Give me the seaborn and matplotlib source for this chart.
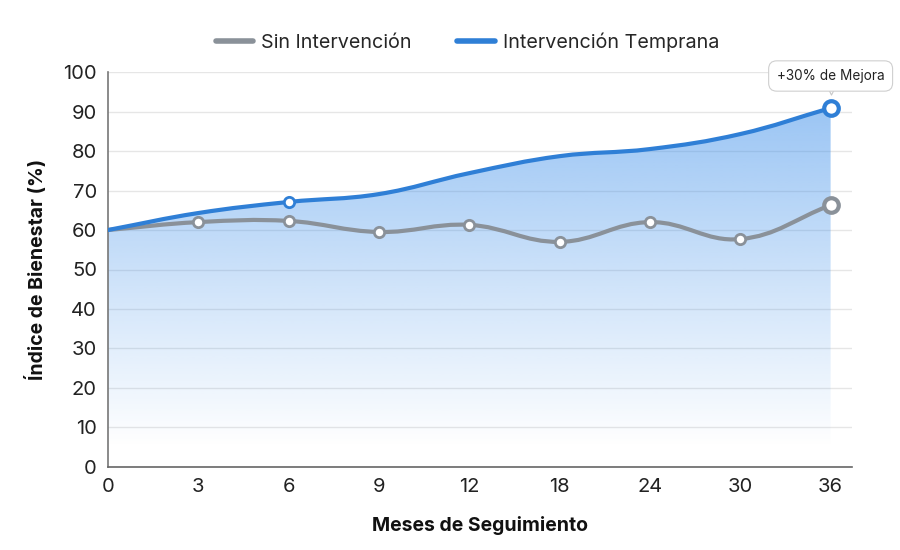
import numpy as np
import pandas as pd
import matplotlib
matplotlib.use("Agg")
import matplotlib.pyplot as plt
import seaborn as sns
from matplotlib.path import Path
from matplotlib.patches import PathPatch
from matplotlib.lines import Line2D

# -------------------------------
# Data
# -------------------------------
meses = ["0", "3", "6", "9", "12", "18", "24", "30", "36"]
sin_intervencion = [60, 62, 62.3, 59.5, 61.3, 57, 62, 57.7, 66.3]
intervencion_temprana = [60, 64.3, 67.1, 69.1, 74.4, 78.7, 80.5, 84.3, 90.9]
y_ticks = [0, 10, 20, 30, 40, 50, 60, 70, 80, 90, 100]

GRAY = "#8a9199"
BLUE = "#2f7fd6"

sns.set_theme(style="white")
plt.rcParams["font.family"] = ["Inter", "DejaVu Sans"]

df = pd.DataFrame({
    "pos": np.arange(len(meses)),
    "mes": meses,
    "sin": sin_intervencion,
    "temprana": intervencion_temprana,
})


def smooth_path(xs, ys, tension=0.4, sx=90.25, sy=3.95):
    # bezier control points (chart.js style), distances measured in pixel-ish units
    xs = np.asarray(xs, float)
    ys = np.asarray(ys, float)
    n = len(xs)
    prev_cp, next_cp = [], []
    for i in range(n):
        p = (xs[max(i - 1, 0)], ys[max(i - 1, 0)])
        c = (xs[i], ys[i])
        q = (xs[min(i + 1, n - 1)], ys[min(i + 1, n - 1)])
        d01 = np.hypot((c[0] - p[0]) * sx, (c[1] - p[1]) * sy)
        d12 = np.hypot((q[0] - c[0]) * sx, (q[1] - c[1]) * sy)
        tot = d01 + d12 if d01 + d12 else 1
        fa = tension * d01 / tot
        fb = tension * d12 / tot
        prev_cp.append((c[0] - fa * (q[0] - p[0]), c[1] - fa * (q[1] - p[1])))
        next_cp.append((c[0] + fb * (q[0] - p[0]), c[1] + fb * (q[1] - p[1])))
    verts = [(xs[0], ys[0])]
    codes = [Path.MOVETO]
    for i in range(n - 1):
        verts += [next_cp[i], prev_cp[i + 1], (xs[i + 1], ys[i + 1])]
        codes += [Path.CURVE4] * 3
    return verts, codes


fig = plt.figure(figsize=(9, 5.5), dpi=100)
ax = fig.add_axes([0.12, 0.151, 0.827, 0.718])

# gradient fill under the blue curve
v, c = smooth_path(df["pos"], df["temprana"])
fill_verts = v + [(df["pos"].iloc[-1], 0), (0, 0), v[0]]
fill_codes = c + [Path.LINETO, Path.LINETO, Path.CLOSEPOLY]
clip = PathPatch(Path(fill_verts, fill_codes), facecolor="none", edgecolor="none",
                 transform=ax.transData)
ax.add_patch(clip)
grad = np.zeros((256, 1, 4))
grad[:, 0, 0] = 66 / 255
grad[:, 0, 1] = 146 / 255
grad[:, 0, 2] = 235 / 255
grad[:, 0, 3] = np.linspace(0.53, 0.0, 256)
im = ax.imshow(grad, extent=[0, len(meses) - 1, 5, max(intervencion_temprana)],
               aspect="auto", origin="upper", zorder=1, interpolation="bilinear")
im.set_clip_path(clip)

# smooth lines
vg, cg = smooth_path(df["pos"], df["sin"])
ax.add_patch(PathPatch(Path(vg, cg), fill=False, edgecolor=GRAY, lw=3,
                       capstyle="round", joinstyle="round", zorder=3))
ax.add_patch(PathPatch(Path(v, c), fill=False, edgecolor=BLUE, lw=3,
                       capstyle="round", joinstyle="round", zorder=4))

# markers
gray_pts = df.iloc[1:]
sns.scatterplot(data=gray_pts.iloc[:-1], x="pos", y="sin", ax=ax, s=55,
                facecolor="white", edgecolor=GRAY, linewidth=2, zorder=5, legend=False)
sns.scatterplot(data=gray_pts.iloc[-1:], x="pos", y="sin", ax=ax, s=110,
                facecolor="white", edgecolor=GRAY, linewidth=3, zorder=5, legend=False)
sns.scatterplot(data=df.iloc[[2]], x="pos", y="temprana", ax=ax, s=55,
                facecolor="white", edgecolor=BLUE, linewidth=2, zorder=6, legend=False)
sns.scatterplot(data=df.iloc[[-1]], x="pos", y="temprana", ax=ax, s=110,
                facecolor="white", edgecolor=BLUE, linewidth=3, zorder=6, legend=False)

# tooltip
ax.scatter([len(meses) - 1], [96.0], marker="v", s=90, color="white",
           edgecolor="#c8c8c8", linewidth=0.8, zorder=7, clip_on=False)
ax.annotate("+30% de Mejora", xy=(len(meses) - 1, 99), ha="center", va="center",
            fontsize=9.8, color="#222222", annotation_clip=False, zorder=8,
            bbox=dict(boxstyle="round,pad=0.6,rounding_size=0.6", facecolor="white",
                      edgecolor="#cfcfcf", linewidth=0.8))

# axes styling
ax.set_xlim(0, 8.24)
ax.set_ylim(0, 100)
ax.set_xticks(df["pos"])
ax.set_xticklabels(meses)
ax.set_yticks(y_ticks)
ax.tick_params(axis="both", labelsize=14.5, colors="#222222", length=0, pad=8)
ax.grid(axis="y", color="#e6e6e6", linewidth=1, zorder=0)
ax.set_axisbelow(True)
for side in ["top", "right"]:
    ax.spines[side].set_visible(False)
ax.spines["left"].set_color("#777777")
ax.spines["bottom"].set_color("#666666")
ax.spines["left"].set_linewidth(1.2)
ax.spines["bottom"].set_linewidth(1.2)
ax.set_xlabel("Meses de Seguimiento", fontsize=14, fontweight="bold",
              color="#111111", labelpad=14)
ax.set_ylabel("Índice de Bienestar (%)", fontsize=14, fontweight="bold",
              color="#111111", labelpad=12)

handles = [Line2D([0], [0], color=GRAY, lw=4, solid_capstyle="round"),
           Line2D([0], [0], color=BLUE, lw=4, solid_capstyle="round")]
ax.legend(handles, ["Sin Intervención", "Intervención Temprana"], loc="center",
          bbox_to_anchor=(0.483, 1.076), ncol=2, frameon=False, fontsize=14.2,
          handlelength=1.9, columnspacing=2.3, handletextpad=0.4)

fig.savefig("out.png", dpi=100, facecolor="white")
